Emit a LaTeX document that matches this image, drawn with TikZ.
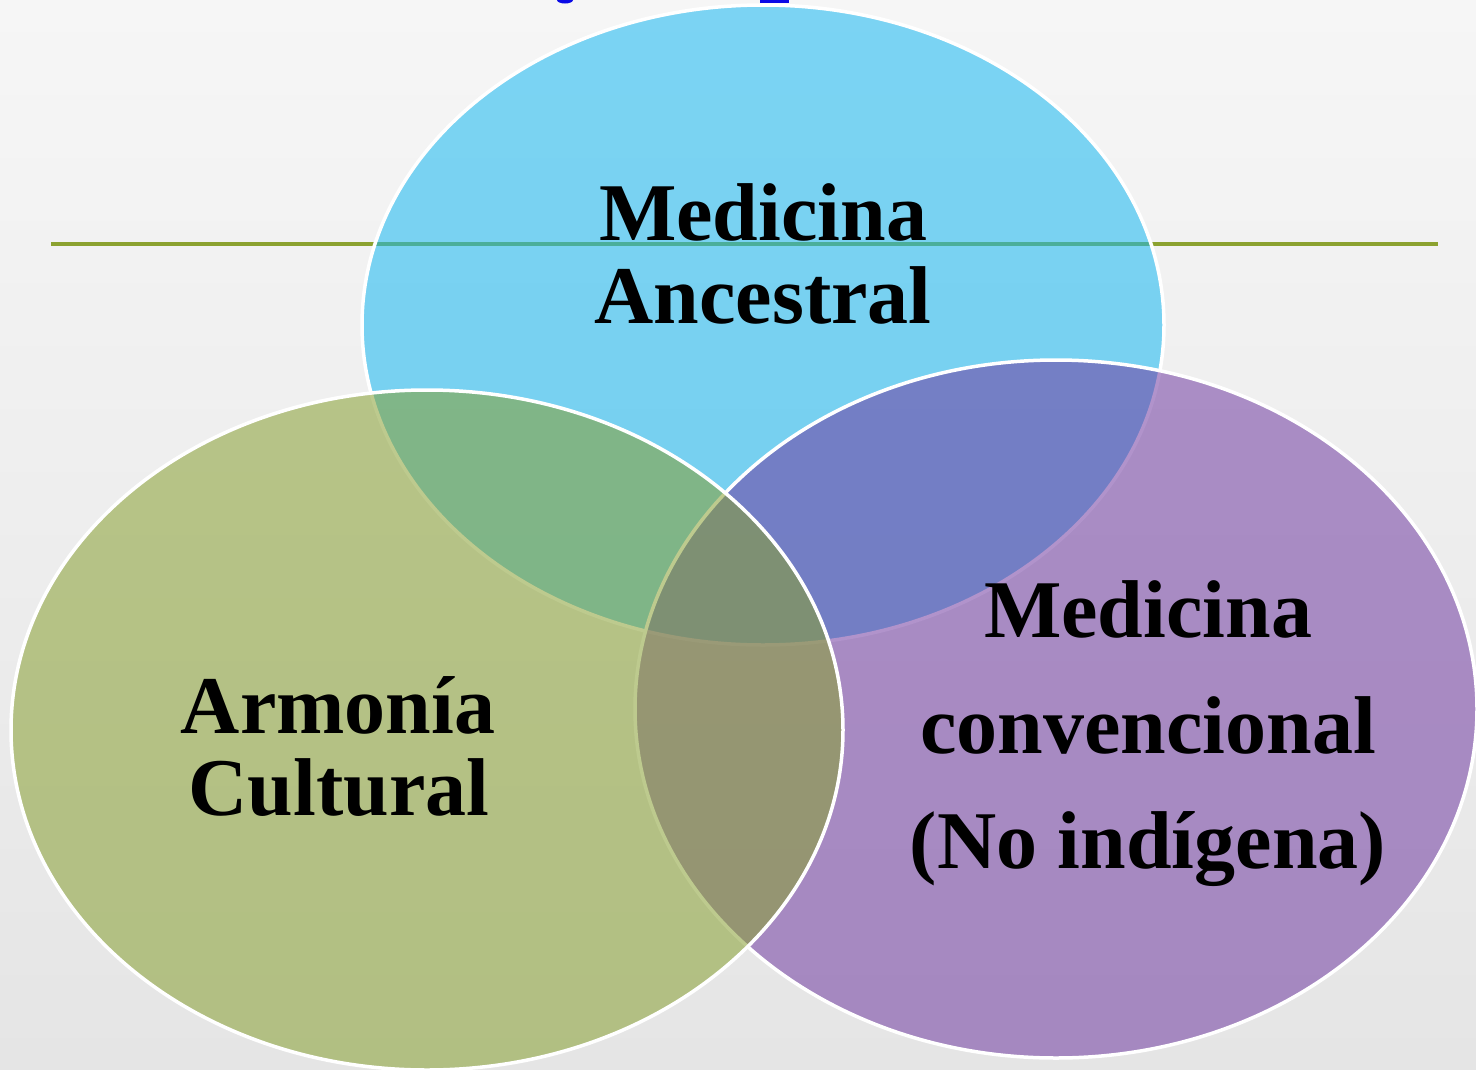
\documentclass[tikz,border=0pt]{standalone}
\usepackage{fontspec}
\setmainfont{Liberation Serif}
\definecolor{bgtop}{RGB}{246,246,246}
\definecolor{bgbot}{RGB}{229,229,229}
\definecolor{rulegreen}{RGB}{140,162,48}
\definecolor{cblue}{RGB}{22,184,242}
\definecolor{cpurple}{RGB}{113,60,162}
\definecolor{colive}{RGB}{136,160,50}
\definecolor{linkblue}{RGB}{10,10,230}
\begin{document}
\begin{tikzpicture}[x=1pt,y=-1pt,
  venn/.style={draw=white, line width=3.5pt, fill opacity=0.55, draw opacity=1},
  lbl/.style={anchor=base, inner sep=0pt, font=\fontsize{82}{82}\selectfont\bfseries, text=black}]
\useasboundingbox (0,0) rectangle (1476,1069);
\shade[top color=bgtop, bottom color=bgbot] (0,0) rectangle (1476,1069);
% fragments of blue text cut by the top edge
\fill[linkblue] (565,0) ellipse [x radius=8pt, y radius=3.5pt];
\fill[linkblue] (760,0) rectangle (789,2.5);
% title rule
\coordinate (rl) at (51,244);
\coordinate (rr) at (1438,244);
\draw[rulegreen, line width=3.5pt] (rl) -- (rr);
% ellipses
\filldraw[venn, fill=cblue]   (763,325) ellipse [x radius=401pt, y radius=320pt];
\filldraw[venn, fill=cpurple] (1056,709) ellipse [x radius=421pt, y radius=349pt];
\filldraw[venn, fill=colive]  (427,730) ellipse [x radius=416pt, y radius=340pt];
% labels
\node[lbl] (ma1) at (763,240) {Medicina};
\node[lbl] (ma2) at (763,323) {Ancestral};
\node[lbl] (ac1) at (338,733) {Armonía};
\node[lbl] (ac2) at (339,815) {Cultural};
\node[lbl] (mc1) at (1148,637) {Medicina};
\node[lbl] (mc2) at (1148,753) {convencional};
\node[lbl] (mc3) at (1148,868) {(No indígena)};
\end{tikzpicture}
\end{document}
